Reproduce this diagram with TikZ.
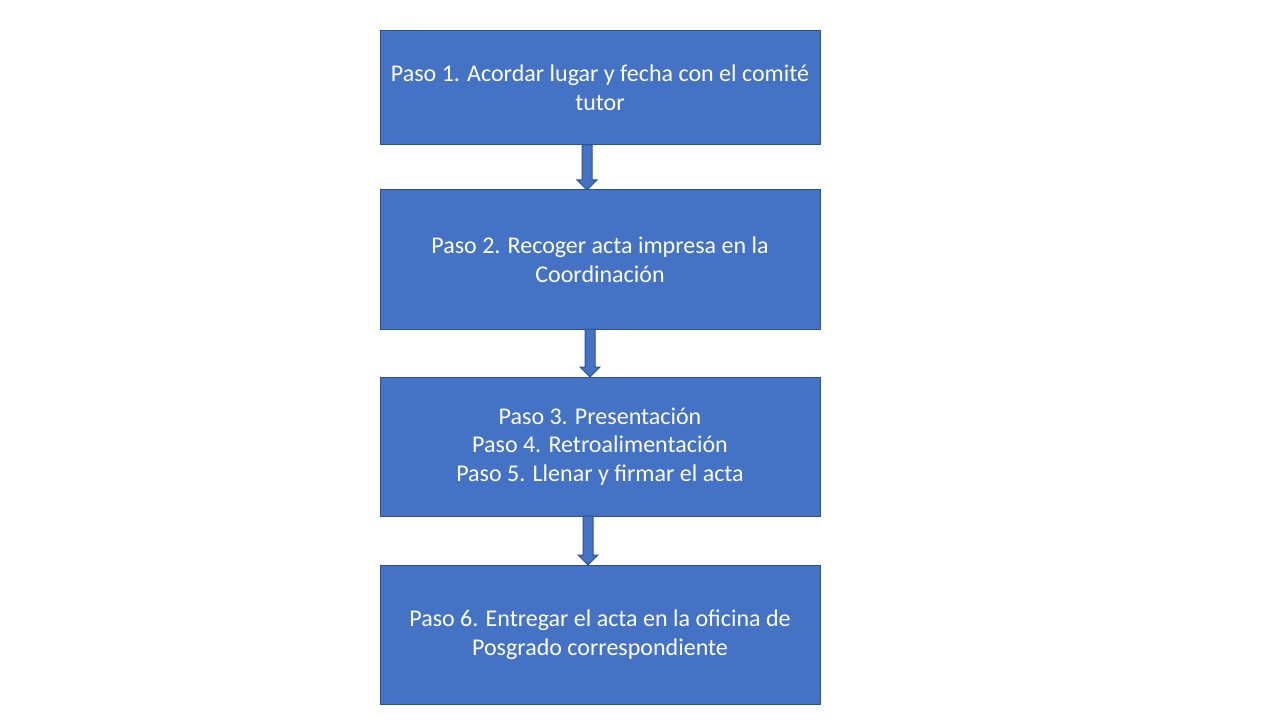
\documentclass[tikz,border=0pt]{standalone}
\usepackage{fontspec}
\setmainfont{Carlito}
\definecolor{stepblue}{HTML}{4472C4}
\definecolor{stepedge}{HTML}{2F528F}
% flecha de bloque: #1 paso de arriba, #2 paso de abajo, #3 desplazamiento
\newcommand{\steparrow}[3]{%
\draw[draw=stepedge,fill=stepblue] ([xshift=#3-3.75pt]#1.south) -- ([xshift=#3-3.75pt,yshift=7.5pt]#2.north)
 -- ([xshift=#3-7.5pt,yshift=7.5pt]#2.north) -- ([xshift=#3]#2.north)
 -- ([xshift=#3+7.5pt,yshift=7.5pt]#2.north) -- ([xshift=#3+3.75pt,yshift=7.5pt]#2.north)
 -- ([xshift=#3+3.75pt]#1.south) -- cycle;}
\begin{document}
\begin{tikzpicture}[x=0.75pt,y=-0.75pt,inner sep=0pt,outer sep=0pt,line width=0.75pt,
stepblock/.style={draw=stepedge,fill=stepblue,text=white,rectangle,align=center,minimum width=330pt,font=\fontsize{18}{21.6}\selectfont}]
\useasboundingbox (0,0) rectangle (1280,720);
\draw (600,88) node[stepblock,minimum height=85.5pt] (P1) {Paso 1. Acordar lugar y fecha con el comité\\tutor};
\draw (600,259.5) node[stepblock,minimum height=104.25pt] (P2) {Paso 2. Recoger acta impresa en la\\Coordinación};
\draw (600,446.5) node[stepblock,minimum height=104.25pt] (P3) {Paso 3. Presentación\\Paso 4. Retroalimentación\\Paso 5. Llenar y firmar el acta};
\draw (600,634.5) node[stepblock,minimum height=104.25pt] (P6) {Paso 6. Entregar el acta en la oficina de\\Posgrado correspondiente};
% flechas entre pasos
\steparrow{P1}{P2}{-9.75pt}
\steparrow{P2}{P3}{-7.5pt}
\steparrow{P3}{P6}{-9pt}
\end{tikzpicture}
\end{document}
